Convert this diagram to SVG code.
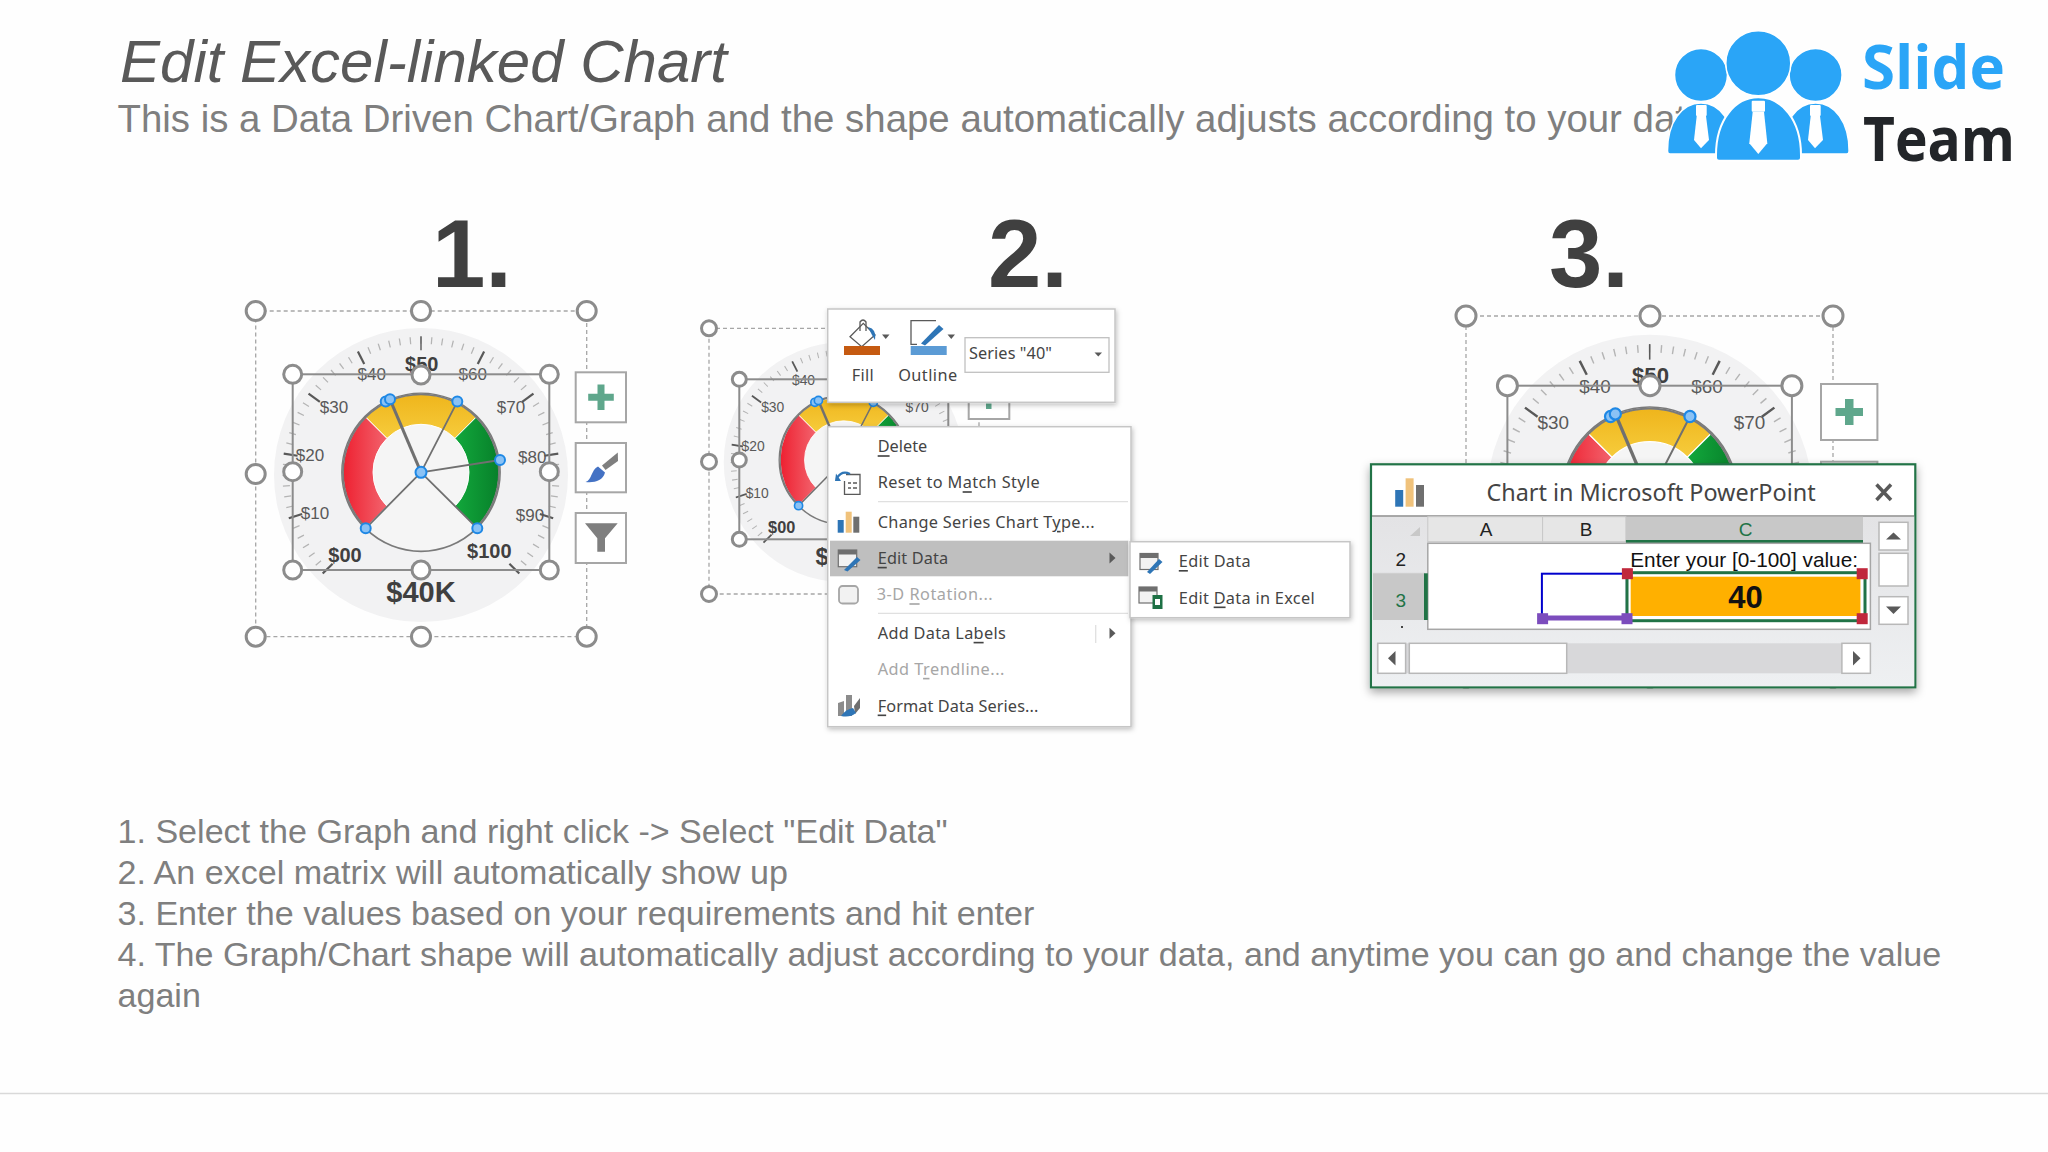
<svg xmlns="http://www.w3.org/2000/svg" width="2048" height="1152" viewBox="0 0 2048 1152">
<style>
text{font-family:"Liberation Sans",Arial,sans-serif}
.num{font-size:96px;font-weight:700;fill:#404040;text-anchor:middle}
.body{font-size:34.1px;fill:#7f7f7f}
.lb{font-size:17px;fill:#595959;text-anchor:middle;dominant-baseline:central}
.lbb{font-size:20px;font-weight:700;fill:#404040;text-anchor:middle;dominant-baseline:central}
.tk{stroke:#595959;stroke-width:2.2}
.nd{stroke:#707070;stroke-width:1.8;fill:none}
.dot{fill:#8ac2f5;stroke:#1e88e5;stroke-width:2}
.h{fill:#fff;stroke:#8c8c8c;stroke-width:3}
.dash{fill:none;stroke:#a6a6a6;stroke-width:1.3;stroke-dasharray:4 3}
.sel{fill:none;stroke:#8c8c8c;stroke-width:2}
.btn{fill:#fff;stroke:#a6a6a6;stroke-width:2}
.m{font-family:"Noto Sans","Open Sans",sans-serif;font-size:16.3px;fill:#444;dominant-baseline:central}
.off{fill:#a6a6a6}
.u{text-decoration:underline}
.panel{fill:#fff;stroke:#c6c6c6;stroke-width:1.5;filter:url(#sh)}
.x{font-size:19px;fill:#222;text-anchor:middle;dominant-baseline:central}
.sb{fill:#fff;stroke:#b8b8b8;stroke-width:1.5}
.ar{fill:#595959}
</style>
<defs>
<filter id="sh" x="-10%" y="-10%" width="120%" height="120%"><feDropShadow dx="1" dy="2" stdDeviation="2.5" flood-color="#000" flood-opacity="0.25"/></filter>
<filter id="sh2" x="-10%" y="-10%" width="120%" height="125%"><feDropShadow dx="0" dy="4" stdDeviation="5" flood-color="#000" flood-opacity="0.35"/></filter>
<linearGradient id="gr" x1="0" x2="1" y1="0" y2="0"><stop offset="0" stop-color="#ee2030"/><stop offset="1" stop-color="#f2646e"/></linearGradient>
<linearGradient id="gy" x1="0" x2="0" y1="0" y2="1"><stop offset="0" stop-color="#efb51c"/><stop offset="1" stop-color="#f6cc3c"/></linearGradient>
<linearGradient id="gg" x1="0" x2="1" y1="0" y2="0"><stop offset="0" stop-color="#12a83c"/><stop offset="1" stop-color="#07802a"/></linearGradient>
<linearGradient id="wb" x1="0" x2="0" y1="0" y2="1"><stop offset="0" stop-color="#e3e3e5"/><stop offset="1" stop-color="#eef0f2"/></linearGradient>
<g id="dial">
<circle cx="0" cy="2.7" r="147" fill="#f2f2f3"/>
<path d="M-95.46 98.46A135 135 0 1 1 95.46 98.46" fill="none" stroke="#b4b4b4" stroke-width="7" pathLength="60" stroke-dasharray="0.12 0.88" stroke-dashoffset="0.06"/>
<g class="tk">
<line y1="-136" y2="-122" stroke-width="1.4"/>
<line y1="-139" y2="-125" transform="rotate(-27 0 3) translate(0 3)"/>
<line y1="-139" y2="-125" transform="rotate(27 0 3) translate(0 3)"/>
<line y1="-139" y2="-125" transform="rotate(-54 0 3) translate(0 3)"/>
<line y1="-139" y2="-125" transform="rotate(54 0 3) translate(0 3)"/>
<line y1="-139" y2="-125" transform="rotate(-81 0 3) translate(0 3)"/>
<line y1="-139" y2="-125" transform="rotate(81 0 3) translate(0 3)"/>
<line y1="-139" y2="-125" transform="rotate(-108 0 3) translate(0 3)"/>
<line y1="-139" y2="-125" transform="rotate(108 0 3) translate(0 3)"/>
<line y1="-139" y2="-125" transform="rotate(-135 0 3) translate(0 3)"/>
<line y1="-139" y2="-125" transform="rotate(135 0 3) translate(0 3)"/>
</g>
<circle r="79" fill="#f5f5f5" stroke="#7a7a7a" stroke-width="1.8"/>
<path fill="url(#gr)" stroke="#fff" stroke-width="1" d="M-55.15 55.15A78 78 0 0 1-55.15-55.15L-33.94-33.94A48 48 0 0 0-33.94 33.94Z"/>
<path fill="url(#gy)" stroke="#fff" stroke-width="1" d="M-55.15-55.15A78 78 0 0 1 55.15-55.15L33.94-33.94A48 48 0 0 0-33.94-33.94Z"/>
<path fill="url(#gg)" stroke="#fff" stroke-width="1" d="M55.15-55.15A78 78 0 0 1 55.15 55.15L33.94 33.94A48 48 0 0 0 33.94-33.94Z"/>
<path d="M-55.15 55.15A78 78 0 1 1 55.15 55.15" fill="none" stroke="#7a7a7a" stroke-width="1.8"/>
<path class="nd" d="M0 0L36.3-70.7M0 0L79-12.3M0 0L-55.3 56M0 0L56.3 56"/>
<path class="nd" style="stroke-width:3" d="M0 0L-31-73"/>
<circle class="dot" cx="-35.3" cy="-70.7" r="5"/><circle class="dot" cx="-31" cy="-73" r="5"/><circle class="dot" cx="36.3" cy="-70.7" r="5"/><circle class="dot" cx="79" cy="-12.3" r="5"/><circle class="dot" cx="-55.3" cy="56" r="5"/><circle class="dot" cx="56.3" cy="56" r="5"/><circle class="dot" r="5.5"/>
<text class="lb" x="-49.3" y="-98">$40</text><text class="lb" x="51.7" y="-98">$60</text>
<text class="lb" x="-87" y="-65">$30</text><text class="lb" x="90" y="-65">$70</text>
<text class="lb" x="-111" y="-16.7">$20</text><text class="lb" x="111.3" y="-14.7">$80</text>
<text class="lb" x="-106" y="41">$10</text><text class="lb" x="109" y="43.3">$90</text>
<text class="lbb" x="0.7" y="-108">$50</text><text class="lbb" x="-76" y="82.7">$00</text><text class="lbb" x="68.3" y="78.3">$100</text>
<text class="lbb" x="0" y="119.3" style="font-size:29px">$40K</text>
</g>
</defs>
<rect width="2048" height="1152" fill="#fefefe"/>

<g id="heading">
<text x="120" y="82" font-size="60" font-style="italic" fill="#595959">Edit Excel-linked Chart</text>
<text x="117.500" y="131.500" font-size="38.400" fill="#7f7f7f">This is a Data Driven Chart/Graph and the shape automatically adjusts according to your data</text>
</g>

<g id="logo">
<g fill="#2aa5f7" stroke="#fff" stroke-width="1.500">
<circle cx="1701" cy="75" r="26.500"/><circle cx="1815.600" cy="75" r="26.500"/><circle cx="1758.300" cy="63.300" r="32.500"/>
<path d="M1667.500 151C1667.500 122 1682 103 1701 103C1720 103 1735 122 1735 154H1670Q1667.500 154 1667.500 151Z"/>
<path d="M1849.100 151C1849.100 122 1834.600 103 1815.600 103C1796.600 103 1781.600 122 1781.600 154H1846.600Q1849.100 154 1849.100 151Z"/>
<path d="M1716 155C1716 120 1735 97.300 1758.300 97.300C1782 97.300 1801 120 1801 155V158Q1801 160.700 1798 160.700H1719Q1716 160.700 1716 158Z" stroke-width="2"/>
</g>
<g fill="#fff">
<rect x="1751.700" y="100.700" width="13.300" height="11" rx="1"/><path d="M1752.700 111.700L1749.300 143.300L1758.300 154L1767.300 143.300L1764 111.700Z"/>
<rect x="1696" y="105" width="10.700" height="11" rx="1"/><path d="M1696.700 116L1694 140L1701 148.300L1709 140L1706 116Z"/>
<rect x="1810" y="105" width="10.700" height="11" rx="1"/><path d="M1810.700 116L1808 140L1815 148.300L1823 140L1820 116Z"/>
</g>
<text x="1862" y="88.500" font-size="61" font-weight="700" fill="#2aa5f7" style="font-family:'Open Sans',sans-serif" textLength="143" lengthAdjust="spacingAndGlyphs">Slide</text>
<text x="1863" y="161" font-size="61" font-weight="700" fill="#222529" style="font-family:'Open Sans',sans-serif" textLength="152" lengthAdjust="spacingAndGlyphs">Team</text>
</g>

<text class="num" x="472" y="287">1.</text>
<text class="num" x="1028" y="287">2.</text>
<text class="num" x="1589" y="287">3.</text>

<g id="gauge-1">
<rect class="dash" x="255.700" y="311" width="331" height="325.700"/>
<use href="#dial" transform="translate(421 472.300)"/>
<rect class="sel" x="292.700" y="374.300" width="256.600" height="195.700"/>
<g class="handles">
<circle class="h" cx="255.700" cy="311" r="9.500"/><circle class="h" cx="421" cy="311" r="9.500"/><circle class="h" cx="586.700" cy="311" r="9.500"/>
<circle class="h" cx="255.700" cy="474" r="9.500"/><circle class="h" cx="586.700" cy="474" r="9.500"/>
<circle class="h" cx="255.700" cy="636.700" r="9.500"/><circle class="h" cx="421" cy="636.700" r="9.500"/><circle class="h" cx="586.700" cy="636.700" r="9.500"/>
<circle class="h" cx="292.700" cy="374.300" r="9"/><circle class="h" cx="421" cy="375" r="9"/><circle class="h" cx="549.300" cy="374.300" r="9"/>
<circle class="h" cx="292.700" cy="471.700" r="9"/><circle class="h" cx="549.300" cy="471.700" r="9"/>
<circle class="h" cx="292.700" cy="570" r="9"/><circle class="h" cx="421" cy="570" r="9"/><circle class="h" cx="549.300" cy="570" r="9"/>
</g>
<rect class="btn" x="575.700" y="372.300" width="50.300" height="50"/>
<path fill="#5fa78c" d="M597.500 384.500h7v9.300h9.300v7h-9.300v9.300h-7v-9.300h-9.300v-7h9.300z"/>
<rect class="btn" x="575.700" y="443" width="50.300" height="49.300"/>
<path fill="#7f7f7f" d="M617.800 452.500L618 461L605.500 470L602 465.500Z"/>
<path fill="#4472c4" d="M585.500 482C592 480 591 470 598 466.500L605 472.500C603 481 594 483 585.500 482Z"/>
<rect class="btn" x="575.700" y="513" width="50.300" height="50"/>
<path fill="#7f7f7f" d="M585 523.300H617.700L605 538.300V551.700H597.300V538.300Z"/>
</g>

<g id="gauge-2">
<rect class="dash" x="709" y="328.300" width="270" height="265.700"/>
<use href="#dial" transform="translate(843.700 460) scale(0.816)"/>
<rect class="sel" x="739.300" y="379.300" width="209" height="160"/>
<circle class="h" cx="709" cy="328.300" r="7.500"/><circle class="h" cx="709" cy="461.700" r="7.500"/><circle class="h" cx="709" cy="594" r="7.500"/>
<circle class="h" cx="739.300" cy="379.300" r="7"/><circle class="h" cx="739.300" cy="460" r="7"/><circle class="h" cx="739.300" cy="539.300" r="7"/>
<rect class="btn" x="968.700" y="370" width="40.600" height="49"/>
<rect x="986" y="403.500" width="5.500" height="5.500" fill="#5fa78c"/>
</g>

<g id="format-toolbar">
<rect class="panel" x="827.700" y="309" width="287.300" height="93.300"/>
<path d="M850 336.700L863.300 323.300L875 335L861.700 346.700Z" fill="#fff" stroke="#595959" stroke-width="1.300"/>
<path d="M860 331V322Q863 318 866 322V331" fill="none" stroke="#595959" stroke-width="1.300"/>
<path d="M868 327Q877 329 875 340L872 335Z" fill="#2e75b6"/>
<rect x="844" y="346" width="36" height="9" fill="#c55a11"/>
<path class="ar" d="M882 334.500h7.500l-3.750 4.500z"/>
<path d="M936 320.700H911V344.300H917" fill="none" stroke="#595959" stroke-width="1.300"/>
<path d="M921 343.500L939 325L943.500 329L925 345.500Z" fill="#2e75b6"/>
<rect x="910.700" y="346" width="36" height="9" fill="#5b9bd5"/>
<path class="ar" d="M947.500 334.500h7.500l-3.750 4.500z"/>
<text class="m" x="862.700" y="374.700" text-anchor="middle" textLength="22">Fill</text>
<text class="m" x="927.700" y="374.700" text-anchor="middle" textLength="59">Outline</text>
<rect x="965" y="337.700" width="144" height="34.600" fill="#fff" stroke="#c0c0c0" stroke-width="1.300"/>
<text class="m" x="969" y="352.700" textLength="83">Series "40"</text>
<path class="ar" d="M1094.500 352.500h7.500l-3.750 4z"/>
</g>

<g id="context-menu">
<rect class="panel" x="827.700" y="426.700" width="303.300" height="300"/>
<rect x="830" y="540.700" width="298.300" height="35.600" fill="#bfbfbf"/>
<path d="M878 501.700H1128M878 613.300H1128" stroke="#e0e0e0" stroke-width="1.300"/>
<path d="M1095.700 625V643" stroke="#e0e0e0" stroke-width="1.300"/>
<path class="ar" d="M1109.500 552.500L1115.500 558L1109.500 563.500Z"/><path class="ar" d="M1109.500 627.800L1115.500 633.300L1109.500 638.800Z"/>
<text class="m" x="877.700" y="446.200" textLength="49.600"><tspan class="u">D</tspan>elete</text>
<text class="m" x="877.700" y="482.200" textLength="162">Reset to M<tspan class="u">a</tspan>tch Style</text>
<text class="m" x="877.700" y="521.800" textLength="216.800">Change Series Chart T<tspan class="u">y</tspan>pe...</text>
<text class="m" x="877.700" y="557.800" textLength="70.500"><tspan class="u">E</tspan>dit Data</text>
<text class="m off" x="876.700" y="594.200" textLength="116"><tspan>3-D </tspan><tspan class="u">R</tspan>otation...</text>
<text class="m" x="877.700" y="632.800" textLength="128">Add Data La<tspan class="u">b</tspan>els</text>
<text class="m off" x="877.700" y="668.800" textLength="126.700">Add T<tspan class="u">r</tspan>endline...</text>
<text class="m" x="877.700" y="705.500" textLength="160.600"><tspan class="u">F</tspan>ormat Data Series...</text>
<g id="menu-icons">
<path d="M846 474.500H860V494.300H844.500V481" fill="#fff" stroke="#595959" stroke-width="1.300"/>
<path d="M848 483H851M853 483H857M848 488H851M853 488H857" stroke="#595959" stroke-width="1.300"/>
<path d="M837 478Q842 470 850 474" fill="none" stroke="#2e75b6" stroke-width="2.200"/><path d="M836 473.500L841 481H835Z" fill="#2e75b6"/>
<rect x="837.700" y="520" width="6" height="12.700" fill="#2e75b6"/><rect x="845.700" y="511.700" width="6" height="21" fill="#f0c27b"/><rect x="853.300" y="516.700" width="6" height="16" fill="#6f6f6f"/>
<rect x="838.300" y="550" width="18.400" height="16.700" fill="#f2f2f2" stroke="#6f6f6f" stroke-width="1.200"/><rect x="838.300" y="550" width="18.400" height="4.500" fill="#6f6f6f"/>
<path d="M844 570L857 557L860.500 560L847.500 571.500Z" fill="#2e75b6"/>
<rect x="839" y="586" width="19" height="17.500" rx="3.500" fill="#f2f2f2" stroke="#a6a6a6" stroke-width="1.800"/>
<path d="M838 716V703L844 701V716ZM846 716V695H852V716Z" fill="#8c8c8c"/><path d="M854 706L860 698V708L855 714Z" fill="#6f6f6f"/><path d="M841 716Q846 709 853 708L856 713Q850 718 841 716Z" fill="#2e75b6"/>
</g>
</g>

<g id="submenu">
<rect class="panel" x="1130" y="541.700" width="220" height="76"/>
<text class="m" x="1178.800" y="561" textLength="71.800"><tspan class="u">E</tspan>dit Data</text>
<text class="m" x="1178.800" y="597.500" textLength="135.800">Edit <tspan class="u">D</tspan>ata in Excel</text>
<rect x="1140" y="553.500" width="18" height="16" fill="#f2f2f2" stroke="#6f6f6f" stroke-width="1.200"/><rect x="1140" y="553.500" width="18" height="4.500" fill="#6f6f6f"/>
<path d="M1147 572L1159 559L1162.500 562L1150 574Z" fill="#2e75b6"/>
<rect x="1139" y="587" width="18" height="16" fill="#f2f2f2" stroke="#6f6f6f" stroke-width="1.200"/><rect x="1139" y="587" width="18" height="4.500" fill="#6f6f6f"/>
<rect x="1152.500" y="595" width="10" height="14" fill="#1e7145"/><rect x="1155" y="599" width="5" height="6" fill="#fff"/>
</g>

<g id="gauge-3">
<rect class="dash" x="1466" y="316" width="367" height="361"/>
<use href="#dial" transform="translate(1649.700 494.900) scale(1.109)"/>
<rect class="sel" x="1507.400" y="385.700" width="284.500" height="217"/>
<circle class="h" cx="1466" cy="316" r="10"/><circle class="h" cx="1650" cy="316" r="10"/><circle class="h" cx="1833" cy="316" r="10"/>
<circle class="h" cx="1507.400" cy="385.700" r="10"/><circle class="h" cx="1650" cy="385.700" r="10"/><circle class="h" cx="1791.900" cy="385.700" r="10"/>
<circle class="h" cx="1466" cy="677" r="10"/><circle class="h" cx="1650" cy="677" r="10"/><circle class="h" cx="1833" cy="677" r="10"/>
<rect class="btn" x="1821" y="384" width="56.400" height="56"/>
<path fill="#5fa78c" d="M1845 399h8.500v9h9.500v8h-9.500v9h-8.500v-9h-9.500v-8h9.500z"/>
<rect class="btn" x="1821" y="461.700" width="56.400" height="20"/>
</g>

<g id="excel-window">
<rect x="1371" y="464.300" width="544.300" height="223" fill="#fff" stroke="#217346" stroke-width="2.200" filter="url(#sh2)"/>
<rect x="1372.200" y="516.500" width="542" height="169.700" fill="url(#wb)"/>
<path d="M1372 516H1914" stroke="#8c8c8c" stroke-width="1.500"/>
<rect x="1395.200" y="490" width="8" height="16.700" fill="#2e75b6"/><rect x="1405.600" y="478.300" width="8" height="28.400" fill="#f0c27b"/><rect x="1416" y="485" width="8" height="21.700" fill="#6f6f6f"/>
<text x="1651" y="491.700" text-anchor="middle" dominant-baseline="central" font-size="23.400" fill="#444" style="font-family:'Noto Sans',sans-serif">Chart in Microsoft PowerPoint</text>
<path d="M1876.500 484.500L1891 500M1891 484.500L1876.500 500" stroke="#595959" stroke-width="3.500"/>
<rect x="1427.800" y="516.700" width="114.800" height="25" fill="#e6e6e6" stroke="#c8c8c8" stroke-width="1"/>
<rect x="1542.600" y="516.700" width="83.300" height="25" fill="#e6e6e6" stroke="#c8c8c8" stroke-width="1"/>
<rect x="1625.900" y="516.700" width="237.100" height="25" fill="#c8c8c8"/>
<rect x="1625.900" y="540" width="237.100" height="3.300" fill="#217346"/>
<path d="M1420 527V536H1410Z" fill="#c8c8c8"/>
<text class="x" x="1486" y="529">A</text><text class="x" x="1586" y="529">B</text><text class="x" x="1745.600" y="529" style="fill:#217346">C</text>
<rect x="1373" y="573.300" width="52" height="46.700" fill="#c8c8c8"/>
<path d="M1373 573.300H1425" stroke="#cfcfcf"/>
<text class="x" x="1400.700" y="559.300">2</text><text class="x" x="1400.700" y="600" style="fill:#217346">3</text>
<rect x="1401" y="626" width="2" height="2" fill="#444"/>
<rect x="1427.800" y="543.300" width="442.600" height="86" fill="#fff" stroke="#a6a6a6" stroke-width="1.500"/>
<rect x="1424" y="573.300" width="3.800" height="46.700" fill="#217346"/>
<text x="1858" y="559.300" text-anchor="end" dominant-baseline="central" font-size="20.800" fill="#111">Enter your [0-100] value:</text>
<rect x="1541.900" y="573.700" width="85" height="45" fill="none" stroke="#0000cc" stroke-width="2"/>
<rect x="1547" y="615.500" width="80" height="5" fill="#7c4dbd"/>
<rect x="1627" y="572.700" width="238" height="48" fill="#fff" stroke="#217346" stroke-width="3"/>
<rect x="1630.700" y="576.700" width="229.700" height="39.300" fill="#ffb000"/>
<text x="1745.600" y="597" text-anchor="middle" dominant-baseline="central" font-size="31" font-weight="700" fill="#111">40</text>
<rect x="1621.900" y="568.200" width="11" height="11" fill="#c0283c"/><rect x="1856.700" y="568.200" width="11" height="11" fill="#c0283c"/><rect x="1856.700" y="613.200" width="11" height="11" fill="#c0283c"/>
<rect x="1537.100" y="613.200" width="11" height="11" fill="#7c4dbd"/><rect x="1621.500" y="613.200" width="11" height="11" fill="#7c4dbd"/>
<rect class="sb" x="1879" y="522.300" width="29" height="27.700"/><path class="ar" d="M1886 539.500L1893.500 532.500L1901 539.500Z"/>
<rect class="sb" x="1879" y="553.300" width="29" height="32.700"/>
<rect class="sb" x="1879" y="596.700" width="29" height="27.600"/><path class="ar" d="M1886 606.500L1893.500 614L1901 606.500Z"/>
<rect x="1376.700" y="643.300" width="493.700" height="30" fill="#d8d8da"/>
<rect class="sb" x="1377.800" y="643.300" width="27.800" height="30"/><path class="ar" d="M1395.500 651L1388 658.300L1395.500 665.500Z"/>
<rect class="sb" x="1409.300" y="643.300" width="157.400" height="30"/>
<rect class="sb" x="1841.900" y="643.300" width="28.500" height="30"/><path class="ar" d="M1853 651L1860.500 658.300L1853 665.500Z"/>
</g>

<g id="steps">
<text class="body" x="117.500" y="842.700">1. Select the Graph and right click -&gt; Select "Edit Data"</text>
<text class="body" x="117.500" y="884.300">2. An excel matrix will automatically show up</text>
<text class="body" x="117.500" y="925.300">3. Enter the values based on your requirements and hit enter</text>
<text class="body" x="117.500" y="965.700">4. The Graph/Chart shape will automatically adjust according to your data, and anytime you can go and change the value</text>
<text class="body" x="117.500" y="1006.700">again</text>
</g>
<path d="M0 1093.500H2048" stroke="#d9d9d9" stroke-width="1.500"/>
</svg>
